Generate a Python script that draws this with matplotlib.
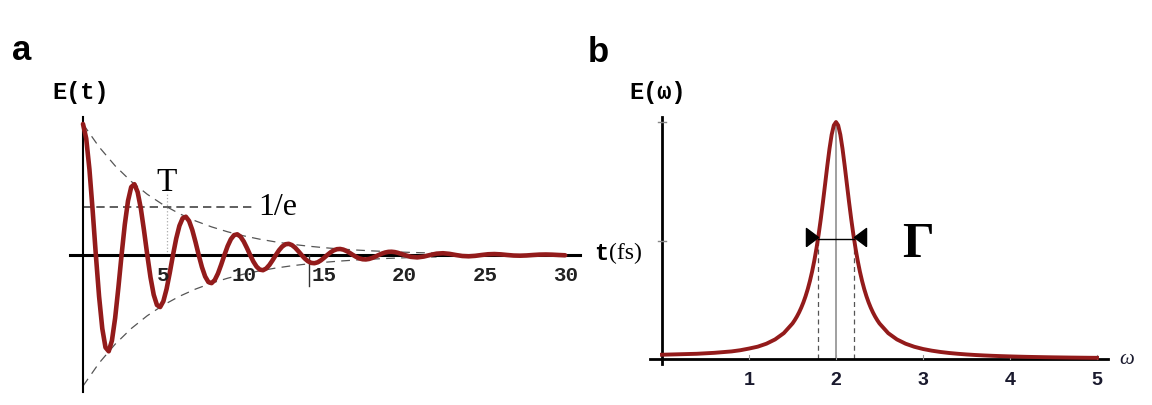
import matplotlib
matplotlib.use("Agg")
import matplotlib.pyplot as plt

# --- panel a: damped field E(t) (t in fs) ---
t_fs = [
    0.0, 0.2, 0.4, 0.6, 0.8, 1.0, 1.2, 1.4, 1.6, 1.8, 2.0, 2.2, 2.4, 2.6, 2.8, 3.0,
    3.2, 3.4, 3.6, 3.8, 4.0, 4.2, 4.4, 4.6, 4.8, 5.0, 5.2, 5.4, 5.6, 5.8, 6.0, 6.2,
    6.4, 6.6, 6.8, 7.0, 7.2, 7.4, 7.6, 7.8, 8.0, 8.2, 8.4, 8.6, 8.8, 9.0, 9.2, 9.4,
    9.6, 9.8, 10.0, 10.2, 10.4, 10.6, 10.8, 11.0, 11.2, 11.4, 11.6, 11.8, 12.0, 12.2, 12.4, 12.6,
    12.8, 13.0, 13.2, 13.4, 13.6, 13.8, 14.0, 14.2, 14.4, 14.6, 14.8, 15.0, 15.2, 15.4, 15.6, 15.8,
    16.0, 16.2, 16.4, 16.6, 16.8, 17.0, 17.2, 17.4, 17.6, 17.8, 18.0, 18.2, 18.4, 18.6, 18.8, 19.0,
    19.2, 19.4, 19.6, 19.8, 20.0,
    20.4, 20.8, 21.2, 21.6, 22.0, 22.4, 22.8, 23.2, 23.6, 24.0, 24.4, 24.8, 25.2,
    25.6, 26.0, 26.4, 26.8, 27.2, 27.6, 28.0, 28.4, 28.8, 29.2, 29.6, 30.0,
]
e_t = [
    1.0000, 0.8890, 0.6548, 0.3410, 0.0, -0.3157, -0.5614, -0.7058, -0.7351, -0.6536, -0.4813, -0.2507, 0.0, 0.2321, 0.4127, 0.5189,
    0.5404, 0.4805, 0.3539, 0.1843, 0.0, -0.1706, -0.3034, -0.3814, -0.3973, -0.3532, -0.2601, -0.1355, 0.0, 0.1254, 0.2230, 0.2804,
    0.2921, 0.2597, 0.1913, 0.0996, 0.0, -0.0922, -0.1640, -0.2061, -0.2147, -0.1909, -0.1406, -0.0732, 0.0, 0.0678, 0.1205, 0.1516,
    0.1579, 0.1403, 0.1034, 0.0538, 0.0, -0.0498, -0.0886, -0.1114, -0.1160, -0.1032, -0.0760, -0.0396, 0.0, 0.0366, 0.0651, 0.0819,
    0.0853, 0.0758, 0.0559, 0.0291, 0.0, -0.0269, -0.0479, -0.0602, -0.0627, -0.0558, -0.0411, -0.0214, 0.0, 0.0198, 0.0352, 0.0443,
    0.0461, 0.0410, 0.0302, 0.0157, 0.0, -0.0146, -0.0259, -0.0325, -0.0339, -0.0301, -0.0222, -0.0116, 0.0, 0.0107, 0.0190, 0.0239,
    0.0249, 0.0222, 0.0163, 0.0085, 0.0,
    -0.0140, -0.0183, -0.0120, 0.0, 0.0103, 0.0135, 0.0088, 0.0, -0.0076, -0.0099, -0.0065, 0.0, 0.0056,
    0.0073, 0.0048, 0.0, -0.0041, -0.0053, -0.0035, 0.0, 0.0030, 0.0039, 0.0026, 0.0, -0.0022,
]

# dashed envelope
env_t = [0, 1, 2, 3, 4, 5, 6, 7, 8, 9, 10, 11, 12, 13, 14, 15, 16, 17, 18, 19, 20, 21, 22]
env_val = [1.0, 0.8250, 0.6807, 0.5616, 0.4634, 0.3823, 0.3154, 0.2602, 0.2147, 0.1771, 0.1462,
           0.1206, 0.0995, 0.0821, 0.0677, 0.0559, 0.0461, 0.0380, 0.0314, 0.0259, 0.0214, 0.0176, 0.0145]

decay_T = 5.2
inv_e = 0.368
t_ticks = [5, 10, 15, 20, 25, 30]

# --- panel b: spectrum E(omega) ---
omega = [
    0.0, 0.1, 0.2, 0.3, 0.4, 0.5, 0.6, 0.7, 0.8, 0.9, 1.0, 1.1, 1.2, 1.3, 1.4,
    1.5, 1.525, 1.55, 1.575, 1.6, 1.625, 1.65, 1.675, 1.7, 1.725, 1.75, 1.775, 1.8, 1.825, 1.85, 1.875,
    1.9, 1.925, 1.95, 1.975, 2.0, 2.025, 2.05, 2.075, 2.1, 2.125, 2.15, 2.175, 2.2, 2.225, 2.25, 2.275,
    2.3, 2.325, 2.35, 2.375, 2.4, 2.425, 2.45, 2.475, 2.5,
    2.6, 2.7, 2.8, 2.9, 3.0, 3.1, 3.2, 3.3, 3.4, 3.5, 3.6, 3.7, 3.8, 3.9, 4.0,
    4.1, 4.2, 4.3, 4.4, 4.5, 4.6, 4.7, 4.8, 4.9, 5.0,
]
e_w = [
    0.018, 0.019, 0.020, 0.021, 0.022, 0.024, 0.026, 0.029, 0.032, 0.037, 0.044, 0.052, 0.0645, 0.0826, 0.1091,
    0.1499, 0.1635, 0.1788, 0.1962, 0.2161, 0.2387, 0.2647, 0.2945, 0.3289, 0.3683, 0.4137, 0.4656, 0.5244, 0.5902, 0.6622, 0.7384,
    0.8152, 0.8869, 0.9464, 0.9860, 1.0000, 0.9860, 0.9464, 0.8869, 0.8152, 0.7384, 0.6622, 0.5902, 0.5244, 0.4656, 0.4137, 0.3683,
    0.3289, 0.2945, 0.2647, 0.2387, 0.2161, 0.1962, 0.1788, 0.1635, 0.1499,
    0.1091, 0.0826, 0.0645, 0.0516, 0.0422, 0.0352, 0.0297, 0.0254, 0.0220, 0.0192, 0.0169, 0.0150, 0.0134, 0.0121, 0.0109,
    0.0099, 0.0090, 0.0083, 0.0076, 0.0070, 0.0065, 0.0060, 0.0056, 0.0052, 0.0049,
]
w_center = 2.0
w_half = [1.79, 2.21]
w_ticks = [1, 2, 3, 4, 5]

RED = "#931b1b"
MONO = "Liberation Mono"
SERIF = "Liberation Serif"
SANS = "Liberation Sans"


def plot_time_panel(ax):
    ax.set_xlim(-1.431, 32.17)
    ax.set_ylim(-1.0992, 1.1145)
    ax.axis("off")

    # axes
    ax.plot([-0.81, 30.93], [0, 0], color="black", lw=2.2, zorder=2)
    ax.plot([0, 0], [-1.046, 1.053], color="black", lw=1.5, zorder=2)

    # envelope and 1/e guides
    ax.plot(env_t, env_val, color="#555555", lw=0.9, dashes=(7, 5), zorder=1)
    ax.plot(env_t, [-v for v in env_val], color="#555555", lw=0.9, dashes=(7, 5), zorder=1)
    ax.plot([0, 10.5], [inv_e, inv_e], color="#444444", lw=1.2, dashes=(5, 3), zorder=1)
    ax.plot([decay_T, decay_T], [0, 0.48], color="#aaaaaa", lw=0.9, ls=":", zorder=1)

    ax.plot(t_fs, e_t, color=RED, lw=3.3, zorder=3, solid_capstyle="round")

    ax.text(decay_T, 0.56, "T", family=SERIF, fontsize=24, ha="center", va="center")
    ax.text(10.9, inv_e, "1/e", family=SERIF, fontsize=23, ha="left", va="center")

    for tk in t_ticks:
        ax.text(tk, -0.15, str(tk), family=MONO, weight="bold", fontsize=15,
                ha="center", va="center", color="#222222")
    ax.plot([14.06, 14.06], [0, -0.24], color="#333333", lw=1.0, zorder=2)
    ax.text(31.8, 0.02, "t", family=MONO, weight="bold", fontsize=17, ha="left", va="center")
    ax.text(32.75, 0.02, "(fs)", family=SERIF, fontsize=17, ha="left", va="center")


def plot_freq_panel(ax):
    ax.set_xlim(-0.2529, 5.4943)
    ax.set_ylim(-0.1688, 1.0549)
    ax.axis("off")

    ax.plot([-0.138, 5.126], [0, 0], color="black", lw=2.0, zorder=2)
    ax.plot([0, 0], [-0.02, 1.021], color="black", lw=2.0, zorder=2)
    for yt in [0.5, 1.0]:
        ax.plot([-0.05, 0.05], [yt, yt], color="#888888", lw=1.0, zorder=2)
    for wt in w_ticks:
        ax.plot([wt, wt], [0, 0.015], color="#999999", lw=0.8, zorder=2)

    # center line and half-width markers
    ax.plot([w_center, w_center], [0, 1.0], color="#999999", lw=1.3, zorder=1)
    for wh in w_half:
        ax.plot([wh, wh], [0, 0.5], color="#555555", lw=0.9, dashes=(4, 3), zorder=1)
    ax.plot(w_half, [0.505, 0.505], color="black", lw=1.0, zorder=4)
    tri_r = [(-0.67, -1), (0.67, 0), (-0.67, 1), (-0.67, -1)]
    tri_l = [(0.67, -1), (-0.67, 0), (0.67, 1), (0.67, -1)]
    ax.plot([w_half[0] - 0.07], [0.515], marker=tri_r, ms=13, color="black", zorder=4)
    ax.plot([w_half[1] + 0.07], [0.515], marker=tri_l, ms=13, color="black", zorder=4)

    ax.plot(omega, e_w, color=RED, lw=2.8, zorder=3)

    ax.text(2.94, 0.485, "Γ", family=SERIF, weight="bold", fontsize=36, ha="center", va="center")
    for wt in w_ticks:
        ax.text(wt, -0.085, str(wt), family=SANS, weight="bold", fontsize=14,
                ha="center", va="center", color="#1a1a2e")
    ax.text(5.345, 0.0, "ω", family=SERIF, style="italic", fontsize=15, ha="center", va="center",
            color="#1a1a2e")


fig = plt.figure(figsize=(11.52, 4.06), dpi=100)
ax_a = fig.add_axes([60 / 1152, 6 / 406, 540 / 1152, 290 / 406])
ax_b = fig.add_axes([640 / 1152, 6 / 406, 500 / 1152, 290 / 406])

plot_time_panel(ax_a)
plot_freq_panel(ax_b)

fig.text(12 / 1152, (406 - 60) / 406, "a", family=SANS, weight="bold", fontsize=25, ha="left", va="baseline")
fig.text(588 / 1152, (406 - 62) / 406, "b", family=SANS, weight="bold", fontsize=25, ha="left", va="baseline")
fig.text(81 / 1152, (406 - 93) / 406, "E(t)", family=MONO, weight="bold", fontsize=17, ha="center", va="center")
fig.text(658 / 1152, (406 - 93) / 406, "E(ω)", family=MONO, weight="bold", fontsize=17, ha="center", va="center")

fig.savefig("out.png", dpi=100)
